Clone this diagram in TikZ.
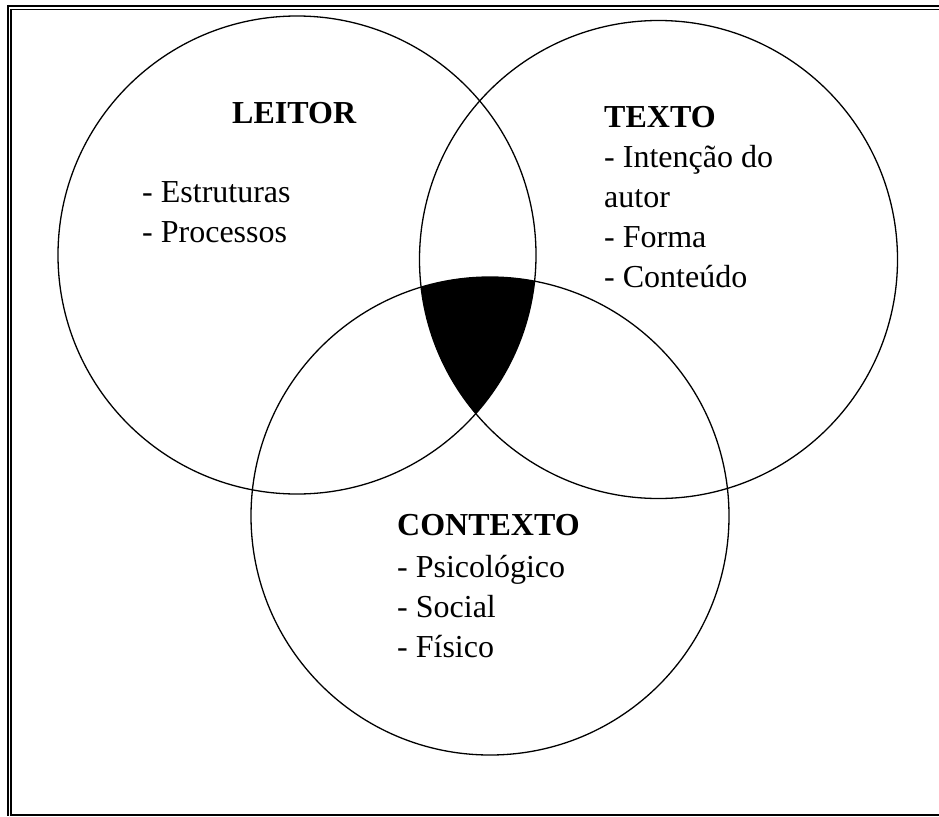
\documentclass[tikz,border=0pt]{standalone}
\usepackage{fontspec}
\setmainfont{Liberation Serif}
\usetikzlibrary{positioning}

\begin{document}
\begin{tikzpicture}[x=1pt,y=-1pt,
 ring/.style={draw=black,line width=1.3pt},
 head/.style={anchor=base west,inner sep=0pt,font=\fontsize{32}{40}\selectfont\bfseries},
 items/.style={anchor=north west,inner sep=0pt,align=left,font=\fontsize{32}{40}\selectfont}]
\useasboundingbox (0,0) rectangle (939,816);
% double frame (cut at right and bottom)
\draw[line width=2pt] (7,6)--(939,6);
\draw[line width=1.2pt] (8,5)--(8,816);
\draw[line width=1pt] (10,10)--(939,10);
\draw[line width=2pt] (11,9.5)--(11,815);
\draw[line width=2.5pt] (10,815)--(939,815);
% circle centres
\coordinate (leitor) at (297,255);
\coordinate (texto) at (658.5,259.5);
\coordinate (contexto) at (490,516);
% common part
\begin{scope}
 \clip (leitor) circle (239);
 \clip (texto) circle (239);
 \fill[black] (contexto) circle (239);
\end{scope}
\draw[ring] (leitor) circle (239);
\draw[ring] (texto) circle (239);
\draw[ring] (contexto) circle (239);
% labels
\node[head] (leitorH) at (232,123) {LEITOR};
\node[items] (leitorL) at (142,174) {\strut- Estruturas\\- Processos};
\node[head] (textoH) at (604,127) {TEXTO};
\node[items] (textoL) at (604,139) {\strut- Intenção do\\autor\\- Forma\\- Conteúdo};
\node[head] (contextoH) at (397,535) {CONTEXTO};
\node[items] (contextoL) at (397,549) {\strut- Psicológico\\- Social\\- Físico};
\end{tikzpicture}
\end{document}
